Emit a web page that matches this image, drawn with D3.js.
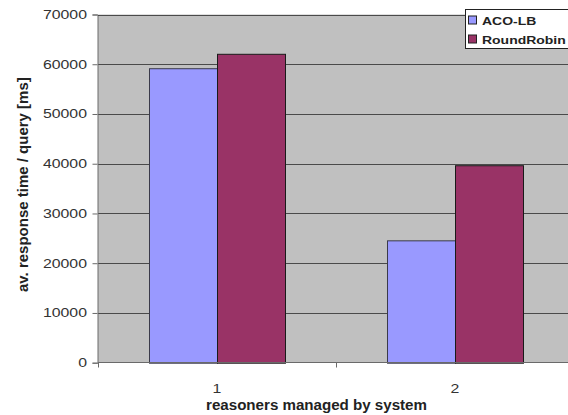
<!DOCTYPE html>
<html>
<head>
<meta charset="utf-8">
<script src="https://cdn.jsdelivr.net/npm/d3@7"></script>
<style>
  html, body { margin: 0; padding: 0; background: #fff; }
  svg { display: block; font-family: "Liberation Sans", Arial, sans-serif; }
</style>
</head>
<body>
<svg id="chart" width="568" height="415"></svg>
<script>
// Response time per query, grouped by number of managed reasoners
const categories = ["1", "2"];
const seriesNames = ["ACO-LB", "RoundRobin"];
const acoLB = [59200, 24600];
const roundRobin = [62100, 39700];
const yTicks = [0, 10000, 20000, 30000, 40000, 50000, 60000, 70000];
const seriesColors = ["#9999FF", "#993366"];

const svg = d3.select("#chart");
const plot = { left: 98, top: 14.5, right: 574, bottom: 362.7 };

const x = d3.scaleBand().domain(categories).range([plot.left, plot.right]).paddingInner(0).paddingOuter(0);
// 150% gap: two bars take 2 / 3.5 of each band
const barW = x.bandwidth() / 3.5;
const y = d3.scaleLinear().domain([0, 70000]).range([plot.bottom, plot.top]);

// wide text: draw at (px, py) stretched horizontally by sx
function wideText(sel, px, py, sx, anchor) {
  return sel.append("text")
    .attr("transform", `translate(${px},${py}) scale(${sx},1)`)
    .attr("text-anchor", anchor);
}

// plot area background
svg.append("rect")
  .attr("x", plot.left).attr("y", plot.top)
  .attr("width", plot.right - plot.left).attr("height", plot.bottom - plot.top)
  .attr("fill", "#C0C0C0");

// horizontal gridlines
svg.append("g").selectAll("line")
  .data(yTicks.filter(d => d > 0))
  .join("line")
  .attr("x1", plot.left).attr("x2", plot.right)
  .attr("y1", d => Math.round(y(d)) + 0.5).attr("y2", d => Math.round(y(d)) + 0.5)
  .attr("stroke", "#4a4a4a").attr("stroke-width", 1);

// bars
const series = [acoLB, roundRobin];
series.forEach((vals, si) => {
  svg.append("g").selectAll("rect")
    .data(vals.map((v, i) => ({ cat: categories[i], v })))
    .join("rect")
    .attr("x", d => x(d.cat) + x.bandwidth() / 2 - barW + si * barW + 0.5)
    .attr("y", d => y(d.v) + 0.5)
    .attr("width", barW)
    .attr("height", d => plot.bottom - y(d.v))
    .attr("fill", seriesColors[si])
    .attr("stroke", si === 0 ? "#3a3a4a" : "#1a1a1a")
    .attr("stroke-width", 1);
});

// y axis
const yAxis = d3.axisLeft(y).tickValues(yTicks).tickSize(5).tickFormat(() => "");
const gy = svg.append("g").attr("transform", `translate(${Math.round(plot.left) - 0.5},0)`).call(yAxis);
gy.select(".domain").attr("stroke", "#6a6a6a");
gy.selectAll(".tick line").attr("stroke", "#6a6a6a");
const fmt = d3.format("d");
yTicks.forEach(t => {
  wideText(svg, 87, y(t) + 4.5, 1.22, "end")
    .attr("fill", "#333").style("font-size", "13px")
    .text(fmt(t));
});

// x axis: ticks at band boundaries, labels at band centers
const gx = svg.append("g").attr("transform", `translate(0,${Math.round(plot.bottom) - 0.5})`);
gx.append("line").attr("x1", plot.left).attr("x2", plot.right).attr("stroke", "#6a6a6a");
const bounds = categories.map(c => x(c)).concat([plot.right]);
gx.selectAll("line.tk").data(bounds).join("line").attr("class", "tk")
  .attr("x1", d => Math.round(d) + 0.5).attr("x2", d => Math.round(d) + 0.5)
  .attr("y1", 0).attr("y2", 5).attr("stroke", "#6a6a6a");
categories.forEach(c => {
  wideText(svg, x(c) + x.bandwidth() / 2, 393, 1.22, "middle")
    .attr("fill", "#333").style("font-size", "13px")
    .text(c);
});

// top border of plot
svg.append("line").attr("x1", plot.left).attr("x2", plot.right)
  .attr("y1", Math.round(plot.top) + 0.5).attr("y2", Math.round(plot.top) + 0.5)
  .attr("stroke", "#4a4a4a");

// axis titles
wideText(svg, 316.5, 410, 1.08, "middle")
  .attr("font-weight", "bold").style("font-size", "14px").attr("fill", "#222")
  .text("reasoners managed by system");
svg.append("text")
  .attr("transform", `translate(28,${(plot.top + plot.bottom) / 2 - 4}) rotate(-90)`)
  .attr("text-anchor", "middle").attr("font-weight", "bold")
  .style("font-size", "15px").attr("fill", "#222")
  .text("av. response time / query [ms]");

// legend
const lg = svg.append("g").attr("transform", "translate(465.5,9.5)");
lg.append("rect").attr("width", 110).attr("height", 39).attr("fill", "#fff").attr("stroke", "#222");
seriesNames.forEach((n, i) => {
  lg.append("rect").attr("x", 3).attr("y", 6.5 + i * 19).attr("width", 8).attr("height", 8)
    .attr("fill", seriesColors[i]).attr("stroke", "#222");
  wideText(lg, 16.5, 15.5 + i * 19.3, 1.27, "start")
    .attr("font-weight", "bold").style("font-size", "11px").attr("fill", "#222")
    .text(n);
});
</script>
</body>
</html>
